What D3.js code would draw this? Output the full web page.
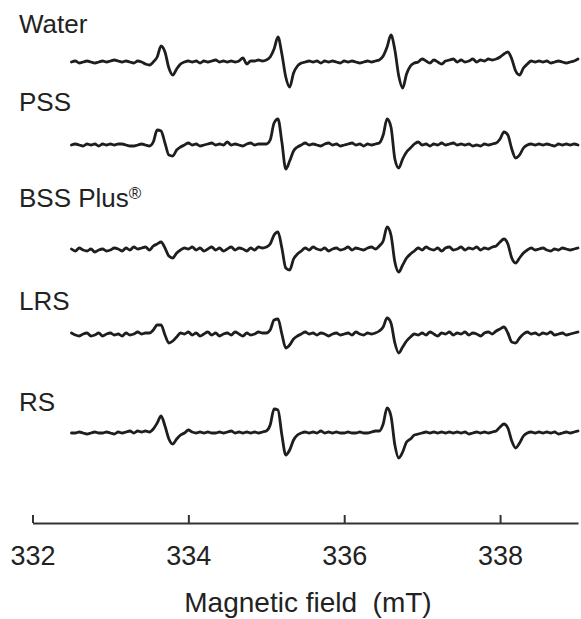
<!DOCTYPE html>
<html>
<head>
<meta charset="utf-8">
<script src="https://cdn.jsdelivr.net/npm/d3@7"></script>
<style>
  html, body { margin: 0; padding: 0; background: #fff; }
  svg { display: block; }
  text { font-family: "Liberation Sans", Arial, Helvetica, sans-serif; fill: #222; }
</style>
</head>
<body>
<svg id="chart" width="581" height="619"></svg>
<script>
// ---------------- DATA ----------------
const sampleNames = ["Water", "PSS", "BSS Plus", "LRS", "RS"];
const xTickValues = [332, 334, 336, 338];
const xAxisTitle = "Magnetic field  (mT)";
// spectra sampled from 332.50 mT in steps of 0.05 mT (131 points)
const fieldStart = 332.5;
const fieldStep = 0.05;

const water = [
  0, 1, -1, 0, 1, 0, -1, 0, 1, 0,
  1, 2, 1, 0, 1, 0, -1, 1, 0, -2,
  -3, 0, 5, 16, 10, -6, -13, -7, -2, 0,
  1, 0, 1, -1, 1, 0, 1, 2, 0, 1,
  0, 1, 0, 1, 4, -2, 1, 1, 2, 1,
  2, 5, 13, 25, 8, -15, -25, -11, -4, -1,
  0, 1, 0, 1, -1, 1, 0, 1, 0, -1,
  1, 0, 1, 0, -1, 0, 1, 0, 1, 2,
  6, 15, 27, 12, -14, -26, -12, -4, -1, 0,
  3, 1, -1, 2, 0, -2, 1, 2, 3, 0,
  2, 0, 1, 3, 0, 2, 1, 3, 2, 3,
  5, 8, 10, 3, -9, -13, -6, -2, 1, 0,
  1, 0, 1, -1, 0, 1, 0, -1, 0, 1, 3
];
const pss = [
  0, 1, 0, -1, 1, 0, 1, -1, 1, 0,
  1, 0, 1, 1, 0, -1, -1, 0, 1, 0,
  -1, 3, 15, 14, 2, -10, -11, -5, -2, 0,
  2, 0, 1, -1, 0, 1, 2, 0, 1, 0,
  3, 0, 1, 0, -1, 1, 2, 0, 1, 1,
  1, 5, 22, 26, 3, -24, -16, -6, -2, 0,
  2, 0, 1, 0, -1, 1, 2, 0, 1, -1,
  0, 1, 2, 0, 1, -1, 1, 0, 1, 2,
  10, 26, 18, -14, -23, -14, -7, -3, 1, 3,
  0, 1, -1, 1, 0, 2, 0, 1, 2, 0,
  1, 0, 1, -1, 0, -1, 1, 0, 1, 2,
  6, 13, 10, -4, -13, -10, -3, 0, 1, 0,
  1, 0, 1, 0, -1, 1, 0, 1, 0, 1, 0
];
const bssPlus = [
  1, -1, 2, 0, -1, 1, -2, 0, 1, -1,
  0, 2, 1, -1, 2, 0, 3, 1, 2, 3,
  0, 4, 6, 8, 2, -6, -8, -3, 0, 2,
  1, 3, 0, 2, -1, 1, 3, 0, 2, -1,
  1, 3, 0, 2, 1, -1, 2, 0, 3, 2,
  3, 6, 15, 18, 2, -18, -20, -9, -4, -1,
  2, 0, 3, 1, 0, 2, -1, 1, 2, 0,
  1, 3, 0, 2, 1, 0, 2, 3, 1, 4,
  9, 23, 15, -12, -22, -15, -8, -4, -1, 2,
  0, 3, 1, 0, 2, -1, 2, 3, 0, 1,
  3, 0, 2, 1, 3, 0, 2, 1, 3, 4,
  8, 11, 6, -8, -13, -8, -3, 0, 2, 0,
  1, 2, 0, -1, 1, 0, 2, 1, 0, 1, 2
];
const lrs = [
  2, 0, -1, 1, 2, -1, 0, 2, -1, 1,
  2, 0, 1, -1, 2, 0, 1, 3, 1, 2,
  2, 5, 10, 10, 0, -8, -6, -2, 2, 1,
  3, 0, 2, -1, 1, 3, 0, 2, -1, 1,
  2, 0, 3, 1, -1, 2, 0, 1, 3, 2,
  2, 5, 15, 16, 1, -13, -10, -4, -1, 1,
  3, 1, 2, 0, 2, 1, -1, 1, 2, 0,
  1, 2, 0, 3, 1, 0, 2, 1, 2, 4,
  8, 17, 12, -8, -18, -12, -6, -2, 1, 0,
  2, 0, 3, 1, -1, 2, 1, 3, 0, 2,
  1, 3, 0, 2, 1, -1, 2, 3, 1, 4,
  6, 8, 2, -7, -8, -3, 1, 3, 1, 2,
  0, 2, 1, 3, 0, 1, 2, 0, 1, 2, 3
];
const rs = [
  0, 0, 1, 0, -1, 0, 1, 0, 0, 1,
  0, -1, 1, 0, 1, 2, 0, 2, 1, 2,
  1, 4, 10, 17, 7, -6, -11, -6, -2, 0,
  3, 1, 0, 1, 0, 1, 0, 0, 1, 0,
  1, 2, 0, 1, 0, 1, 0, 1, 0, 1,
  2, 8, 24, 23, -2, -22, -17, -7, -2, 0,
  1, 0, 1, 0, 2, 0, 1, 0, 1, 0,
  0, 1, 0, 0, 1, 0, 0, 1, 2, 2,
  9, 25, 17, -12, -25, -19, -9, -6, -2, -1,
  0, 1, 0, 1, 0, 1, 0, 1, 0, 1,
  0, 1, -1, 0, 1, 0, 1, 0, 1, 2,
  6, 9, 5, -8, -15, -10, -3, 0, 1, 0,
  1, 0, 1, 0, 1, -1, 0, 1, 0, 1, 2
];
const spectra = [water, pss, bssPlus, lrs, rs];

// ---------------- LAYOUT ----------------
const layout = {
  xRange: [32.5, 578],
  axisY: 523,
  labelX: 19,
  labelBaselines: [33, 111, 207, 310, 411],
  traceBaselines: [62, 145, 250, 335, 433]
};

const svg = d3.select("#chart");

const x = d3.scaleLinear().domain([332, 339]).range(layout.xRange);

const line = d3.line()
  .x((d, i) => x(fieldStart + i * fieldStep))
  .curve(d3.curveMonotoneX);

spectra.forEach((vals, si) => {
  const b = layout.traceBaselines[si];
  const y = d3.scaleLinear().domain([-30, 30]).range([b + 30, b - 30]);
  line.y(d => y(d));
  svg.append("path")
    .datum(vals)
    .attr("d", line)
    .attr("fill", "none")
    .attr("stroke", "#1e1e1e")
    .attr("stroke-width", 2.8)
    .attr("stroke-linejoin", "round")
    .attr("stroke-linecap", "round");
});

// sample labels
sampleNames.forEach((name, i) => {
  const t = svg.append("text")
    .attr("x", layout.labelX)
    .attr("y", layout.labelBaselines[i])
    .attr("font-size", 26)
    .text(name);
  if (name === "BSS Plus") {
    t.append("tspan").attr("font-size", 17).attr("dy", -8).text("®");
  }
});

// x axis
const axis = d3.axisBottom(x)
  .tickValues(xTickValues)
  .tickSizeInner(-8)
  .tickSizeOuter(0)
  .tickFormat(d3.format("d"));

const gx = svg.append("g")
  .attr("transform", `translate(0,${layout.axisY})`)
  .call(axis);
gx.select(".domain").attr("stroke", "#333").attr("stroke-width", 2.2);
gx.selectAll(".tick line").attr("stroke", "#333").attr("stroke-width", 2);
gx.selectAll(".tick text")
  .attr("y", 42).attr("dy", null)
  .attr("font-size", 27)
  .attr("font-family", "Liberation Sans, Arial, sans-serif")
  .attr("fill", "#222");

svg.append("text")
  .attr("x", 308)
  .attr("y", 612)
  .attr("text-anchor", "middle")
  .attr("font-size", 28)
  .style("white-space", "pre")
  .text(xAxisTitle);
</script>
</body>
</html>
